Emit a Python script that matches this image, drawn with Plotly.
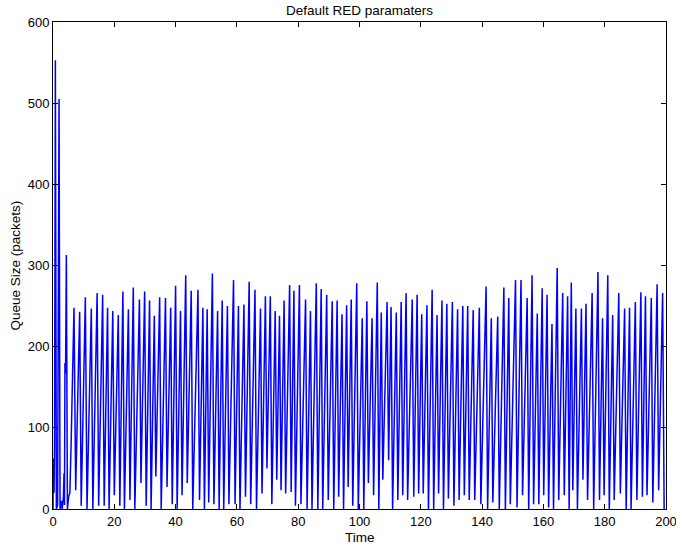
import plotly.graph_objects as go

# Initial transient (time, queue size)
t_start = [0, 0.1, 0.35, 0.5, 0.77, 1.1, 1.5, 1.97, 2.3, 2.7, 3.0, 3.4, 3.6, 3.75, 3.9, 4.1, 4.36, 4.7, 5.1, 5.5, 5.9]
q_start = [0, 62, 20, 80, 553, 0, 5, 505, 0, 10, 0, 15, 44, 5, 180, 167, 313, 0, 15, 20, 79]

# Oscillation peaks
peak_t = [6.85, 8.7, 10.55, 12.5, 14.4, 16.2, 17.8, 19.5, 21.3, 22.8, 24.6, 26.2, 28.2, 29.9, 31.5,
          33.05, 34.8, 36.7, 38.4, 40.0, 41.6, 43.3, 45.1, 47.3, 48.9, 50.3, 52.0, 53.7, 55.2, 56.9,
          58.9, 60.5, 62.3, 64.0, 65.9, 67.7, 69.3, 70.9, 72.5, 73.9, 75.4, 77.2, 78.6, 80.4, 82.4,
          84.0, 85.9, 87.5, 89.3, 91.1, 92.7, 94.3, 95.8, 97.3, 99.1, 100.9, 102.4, 104.1, 105.8, 107.1,
          109.0, 110.3, 112.0, 113.6, 115.2, 117.2, 118.8, 120.3, 122.0, 123.7, 125.3, 126.9, 128.5, 130.3, 132.0,
          133.7, 135.3, 137.1, 139.1, 141.3, 143.0, 145.1, 147.1, 148.7, 150.9, 152.7, 154.7, 156.3, 158.0, 159.6,
          161.2, 162.8, 164.5, 166.3, 167.9, 169.1, 170.6, 172.4, 173.9, 175.9, 177.8, 179.3, 181.0, 182.6, 184.6,
          186.5, 188.1, 190.0, 191.8, 193.3, 195.2, 197.1, 198.9]
peak_q = [248, 243, 261, 247, 266, 264, 248, 244, 239, 268, 246, 273, 258, 268, 257,
          238, 261, 260, 248, 275, 244, 288, 269, 270, 248, 246, 290, 244, 257, 250,
          282, 250, 252, 280, 270, 247, 262, 262, 244, 238, 257, 276, 269, 276, 258,
          244, 278, 271, 264, 256, 257, 240, 251, 258, 278, 235, 256, 235, 279, 242,
          255, 249, 242, 255, 266, 258, 264, 240, 251, 270, 239, 257, 253, 255, 246,
          250, 250, 245, 248, 274, 235, 237, 273, 260, 282, 282, 260, 288, 241, 272,
          264, 228, 297, 266, 262, 279, 247, 247, 253, 266, 292, 235, 288, 239, 266,
          247, 248, 255, 267, 262, 260, 277, 266]

# Oscillation troughs
trough_t = [7.4, 9.2, 11.1, 13.0, 14.9, 16.7, 18.3, 20.0, 21.8, 23.3, 25.1, 26.7, 28.7, 30.4, 32.0,
            33.55, 35.3, 37.2, 38.9, 40.5, 42.1, 43.8, 45.6, 47.8, 49.4, 50.8, 52.5, 54.2, 55.7, 57.4,
            59.4, 61.0, 62.8, 64.5, 66.4, 68.2, 69.8, 71.4, 73.0, 74.4, 75.9, 77.7, 79.1, 80.9, 82.9,
            84.5, 86.4, 88.0, 89.8, 91.6, 93.2, 94.8, 96.3, 97.8, 99.6, 101.4, 102.9, 104.6, 106.3, 107.6,
            109.5, 110.8, 112.5, 114.1, 115.7, 117.7, 119.3, 120.8, 122.5, 124.2, 125.8, 127.4, 129.0, 130.8, 132.5,
            134.2, 135.8, 137.6, 139.6, 141.8, 143.5, 145.6, 147.6, 149.2, 151.4, 153.2, 155.2, 156.8, 158.5, 160.1,
            161.7, 163.3, 165.0, 166.8, 168.4, 169.6, 171.1, 172.9, 174.4, 176.4, 178.3, 179.8, 181.5, 183.1, 185.1,
            187.0, 188.6, 190.5, 192.3, 193.8, 195.7, 197.6, 199.4]
trough_q = [23, 4, 0, 0, 4, 4, 0, 17, 4, 0, 11, 0, 32, 4, 0,
            40, 0, 27, 6, 0, 17, 32, 0, 11, 0, 8, 6, 0, 0, 6,
            6, 0, 15, 6, 0, 19, 50, 6, 36, 23, 19, 21, 4, 6, 0,
            0, 0, 0, 11, 0, 15, 0, 27, 4, 0, 0, 32, 17, 0, 36,
            60, 0, 11, 17, 11, 15, 19, 19, 0, 0, 19, 0, 13, 4, 11,
            17, 11, 11, 6, 0, 8, 0, 0, 6, 2, 17, 0, 6, 6, 17,
            2, 0, 11, 17, 0, 23, 0, 36, 11, 0, 11, 17, 0, 11, 19,
            0, 0, 11, 15, 17, 8, 23, 0]

# Build the full series, ordered in time
pts = list(zip(t_start, q_start)) + list(zip(peak_t, peak_q)) + list(zip(trough_t, trough_q))
pts.sort(key=lambda p: p[0])
time = [p[0] for p in pts]
queue = [p[1] for p in pts]

x_ticks = [0, 20, 40, 60, 80, 100, 120, 140, 160, 180, 200]
y_ticks = [0, 100, 200, 300, 400, 500, 600]

FONT = "Liberation Sans, Arial, Helvetica, sans-serif"
TXT = 13.5

fig = go.Figure()
fig.add_trace(go.Scatter(x=time, y=queue, mode="lines",
                         line=dict(color="#0000ff", width=1.5), showlegend=False))

axis_common = dict(showline=True, linecolor="black", linewidth=1, mirror="allticks",
                   ticks="inside", ticklen=5, tickcolor="black", showgrid=False,
                   zeroline=False, automargin=False,
                   tickfont=dict(family=FONT, size=13, color="black"))

fig.update_xaxes(range=[0, 200], tickvals=x_ticks, ticktext=[str(v) for v in x_ticks],
                 ticklabeloverflow="allow", **axis_common)
fig.update_yaxes(range=[0, 600], tickvals=y_ticks, ticktext=[str(v) for v in y_ticks],
                 ticklabeloverflow="allow", **axis_common)

fig.update_layout(
    width=676, height=545,
    margin=dict(l=53, r=10, t=22, b=36, autoexpand=False),
    paper_bgcolor="white", plot_bgcolor="white",
    font=dict(family=FONT, size=TXT, color="black"),
    title=dict(text="Default RED paramaters", x=0.5319, xanchor="center",
               y=1 - 10 / 545, yanchor="middle", yref="container",
               font=dict(family=FONT, size=TXT, color="black")),
    annotations=[
        dict(text="Time", xref="paper", yref="paper", x=0.5, y=0, yshift=-28,
             xanchor="center", yanchor="middle", showarrow=False,
             font=dict(family=FONT, size=TXT, color="black")),
        dict(text="Queue Size (packets)", xref="paper", yref="paper", x=0, y=0.5, xshift=-38,
             xanchor="center", yanchor="middle", textangle=-90, showarrow=False,
             font=dict(family=FONT, size=TXT, color="black")),
    ],
)

fig.write_html("out.html", config={"displayModeBar": False},
               post_script="document.body.style.margin='0';document.body.style.overflow='hidden';")
